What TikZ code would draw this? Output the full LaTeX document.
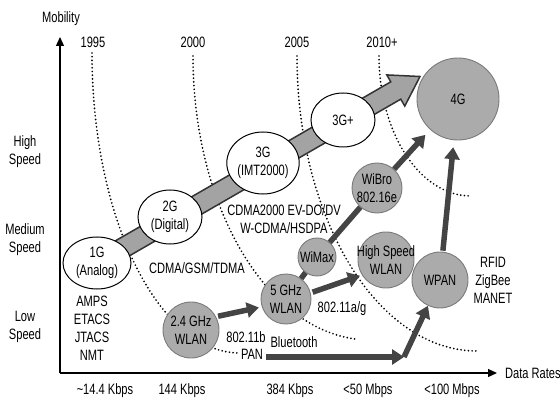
\documentclass[tikz,border=0pt]{standalone}
\usepackage{fontspec}
\setmainfont{Liberation Sans}[FakeStretch=0.74]
\usetikzlibrary{shapes.geometric,arrows.meta}
\definecolor{techgray}{HTML}{ABABAB}
\definecolor{rimgray}{HTML}{7A7A7A}
\definecolor{flowgray}{HTML}{444444}
\definecolor{bandgray}{HTML}{A3A3A3}

\tikzset{
  gen/.style 2 args={ellipse,draw,line width=1pt,fill=white,align=center,
    inner sep=0pt,minimum width=#1,minimum height=#2},
  tech/.style={circle,draw=rimgray,line width=0.9pt,fill=techgray,
    inner sep=0pt,minimum size=#1},
  lbl/.style={align=center,inner sep=0pt},
  era/.style={line width=1.9pt,line cap=round,dash pattern=on 0pt off 3.7pt},
  flow/.style={line width=5.5pt,draw=flowgray,-{Triangle[length=12pt,width=15pt]}},
  link/.style={line width=5.5pt,draw=flowgray},
}

\begin{document}
\begin{tikzpicture}[x=1pt,y=-1pt,font=\fontsize{15}{18}\selectfont]
\useasboundingbox (0,0) rectangle (560,401);

% axes
\coordinate (origin) at (60,373);
\coordinate (ymax) at (60,37);
\coordinate (xmax) at (497,373);
\draw[line width=1.3pt,-{Triangle[length=9pt,width=8pt]}] (origin) -- (ymax);
\draw[line width=1.3pt,-{Triangle[length=9pt,width=8pt]}] (origin) -- (xmax);
\node[lbl] (mob) at (61,19) {Mobility};
\node[lbl,anchor=west] (rates) at (505,373) {Data Rates};

\node[lbl] (hi) at (25,152) {High\\Speed};
\node[lbl] (med) at (25,240) {Medium\\Speed};
\node[lbl] (low) at (25,327) {Low\\Speed};

\node[lbl] (r1) at (105,391) {\textasciitilde 14.4 Kbps};
\node[lbl] (r2) at (182,391) {144 Kbps};
\node[lbl] (r3) at (290,391) {384 Kbps};
\node[lbl] (r4) at (368,391) {<50 Mbps};
\node[lbl] (r5) at (452,391) {<100 Mbps};

% years and their dotted borders
\node[lbl] (t1995) at (93,42) {1995};
\node[lbl] (t2000) at (193,42) {2000};
\node[lbl] (t2005) at (297,42) {2005};
\node[lbl] (t2010) at (382,42) {2010+};
\draw[era] (92,53) arc[start angle=180,end angle=90,x radius=148,y radius=300];
\draw[era] (193,56) arc[start angle=180,end angle=95,x radius=177,y radius=284];
\draw[era] (297,56) arc[start angle=180,end angle=90,x radius=180,y radius=295];
\draw[era] (379,56) arc[start angle=180,end angle=90,x radius=92,y radius=140];

% generations band
\coordinate (start) at (97,263);
\begin{scope}[shift={(start)},rotate=30]
  \filldraw[fill=bandgray,draw=black!80,line width=1.5pt]
    (0,-10) -- (345,-10) -- (345,-18) -- (373,0) -- (345,18) -- (345,10) -- (0,10) -- cycle;
\end{scope}

\node[gen={68pt}{52pt}] (g1) at (start) {1G\\(Analog)};
\node[gen={64pt}{54pt}] (g2) at (170,217) {2G\\(Digital)};
\node[gen={68pt}{62pt}] (g3) at (263,163) {3G\\(IMT2000)};
\node[gen={64pt}{54pt}] (g3p) at (343,120) {3G+};

\node[lbl] (first) at (92,328) {AMPS\\ETACS\\JTACS\\NMT};
\node[lbl] (second) at (197,268) {CDMA/GSM/TDMA};
\node[lbl] (third) at (284,219) {CDMA2000 EV-DO/DV\\W-CDMA/HSDPA};

% wireless technologies
\node[tech=82pt,label={[lbl]center:4G}] (g4) at (458,99) {};
\node[tech=56pt,label={[lbl]center:{2.4 GHz\\WLAN}}] (wlan24) at (191,330) {};
\node[tech=50pt,label={[lbl]center:{5 GHz\\WLAN}}] (wlan5) at (286,299) {};
\node[tech=38pt,label={[lbl]center:WiMax}] (wimax) at (317,257) {};
\node[tech=50pt,label={[lbl]center:{WiBro\\802.16e}}] (wibro) at (377,188) {};
\node[tech=56pt,label={[lbl]center:{High Speed\\WLAN}}] (hswlan) at (386,260) {};
\node[tech=56pt,label={[lbl]center:WPAN}] (wpan) at (440,280) {};

\node[lbl] (b) at (246,337) {802.11b};
\node[lbl] (pan) at (252,354) {PAN};
\node[lbl] (bt) at (294,342) {Bluetooth};
\node[lbl] (ag) at (342,309) {802.11a/g};
\node[lbl] (short) at (493,280) {RFID\\ZigBee\\MANET};

% evolution arrows
\draw[flow,shorten <=2pt,shorten >=3pt] (wlan24.28) -- (wlan5.198);
\draw[flow,shorten <=2pt,shorten >=2pt] (wlan5.14) -- (hswlan.212);
\draw[link] (wlan5) -- (wimax);
\draw[link] (wimax) -- (wibro);
\draw[flow,shorten >=7pt] (wibro) -- (g4);
\draw[flow,shorten <=1pt,shorten >=7pt] (wpan) -- (g4);
\coordinate (turn) at (404,357);
\draw[flow] ([xshift=3pt]pan.east |- turn) -- (turn);
\draw[flow] (turn) -- (wpan);
\end{tikzpicture}
\end{document}
